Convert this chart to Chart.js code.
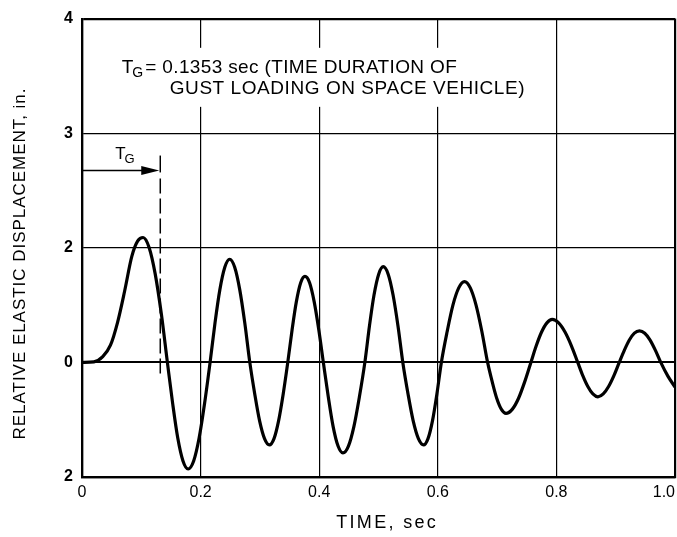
<!DOCTYPE html>
<html>
<head>
<meta charset="utf-8">
<script src="https://cdn.jsdelivr.net/npm/chart.js@4/dist/chart.umd.min.js"></script>
<style>
  html, body { margin: 0; padding: 0; background: #fff; }
  #wrap { width: 677px; height: 537px; }
</style>
</head>
<body>
<div id="wrap"><canvas id="c" width="677" height="537"></canvas></div>
<script>
// ---- data ----
const timeSec = [
  0.000, 0.020, 0.035, 0.048, 0.060, 0.072, 0.084, 0.094, 0.103,
  0.113, 0.1235, 0.134, 0.144,
  0.1528, 0.1615, 0.1703, 0.179,
  0.1883, 0.1975, 0.2068, 0.216,
  0.2243, 0.2325, 0.2408, 0.249,
  0.2575, 0.266, 0.2745, 0.283,
  0.2913, 0.2995, 0.3078, 0.316,
  0.3238, 0.3315, 0.3393, 0.347,
  0.3543, 0.3615, 0.3688, 0.376,
  0.3838, 0.3915, 0.3993, 0.407,
  0.4153, 0.4235, 0.4318, 0.440,
  0.4493, 0.4585, 0.4678, 0.477,
  0.4848, 0.4925, 0.5003, 0.508,
  0.5163, 0.5245, 0.5328, 0.541,
  0.5498, 0.5585, 0.5673, 0.576,
  0.5835, 0.591, 0.5985, 0.606,
  0.6158, 0.6255, 0.6353, 0.645,
  0.6548, 0.6645, 0.6743, 0.684,
  0.6918, 0.6995, 0.7073, 0.715,
  0.7255, 0.736, 0.7465, 0.757,
  0.766, 0.775, 0.784, 0.793,
  0.8038, 0.8145, 0.8253, 0.836,
  0.8445, 0.853, 0.8615, 0.870,
  0.879, 0.888, 0.897, 0.906,
  0.9145, 0.923, 0.9315, 0.940,
  0.949, 0.958, 0.967, 0.976,
  0.988, 1.000
];
const displacement = [
  0.00, 0.01, 0.10, 0.30, 0.70, 1.25, 1.85, 2.12, 2.18,
  2.01, 1.54, 0.83, 0.00,
  -0.71, -1.32, -1.72, -1.86,
  -1.72, -1.32, -0.71, 0.00,
  0.69, 1.27, 1.66, 1.80,
  1.66, 1.27, 0.69, 0.00,
  -0.55, -1.02, -1.33, -1.44,
  -1.33, -1.02, -0.55, 0.00,
  0.57, 1.06, 1.39, 1.50,
  1.39, 1.06, 0.57, 0.00,
  -0.60, -1.12, -1.46, -1.58,
  -1.46, -1.12, -0.60, 0.00,
  0.64, 1.18, 1.54, 1.67,
  1.54, 1.18, 0.64, 0.00,
  -0.55, -1.02, -1.33, -1.44,
  -1.33, -1.02, -0.55, 0.00,
  0.54, 1.00, 1.30, 1.41,
  1.30, 1.00, 0.54, 0.00,
  -0.34, -0.63, -0.82, -0.89,
  -0.82, -0.63, -0.34, 0.00,
  0.29, 0.53, 0.69, 0.75,
  0.69, 0.53, 0.29, 0.00,
  -0.23, -0.42, -0.55, -0.60,
  -0.55, -0.42, -0.23, 0.00,
  0.21, 0.39, 0.51, 0.55,
  0.51, 0.39, 0.21, 0.00,
  -0.24, -0.43
];
const xTickValues = [0, 0.2, 0.4, 0.6, 0.8, 1.0];
const xTickLabels = ['0', '0.2', '0.4', '0.6', '0.8', '1.0'];
const yTickValues = [-2, 0, 2, 4, 6];
const yTickLabels = ['2', '0', '2', '3', '4'];
const xAxisTitle = 'TIME, sec';
const yAxisTitle = 'RELATIVE ELASTIC DISPLACEMENT, in.';
const noteSymbol = 'T';
const noteSubscript = 'G';
const noteLine1 = '= 0.1353 sec (TIME DURATION OF';
const noteLine2 = 'GUST LOADING ON SPACE VEHICLE)';
// gust-duration marker (data coordinates)
const gustTime = 0.132;
const gustArrowLevel = 3.35;
const gustMarkerTop = 3.61;
const gustMarkerBottom = -0.20;

// ---- drawing ----
const FONT = '"Liberation Sans", Arial, sans-serif';

function drawFitted(ctx, text, x, y, targetW, align) {
  ctx.save();
  ctx.letterSpacing = '0px';
  const w0 = ctx.measureText(text).width;
  const n = text.length;
  const sp = n > 1 ? (targetW - w0) / n : 0;
  ctx.letterSpacing = sp.toFixed(2) + 'px';
  const w = ctx.measureText(text).width;
  let sx = x;
  if (align === 'center') sx = x - w / 2 + sp / 2;
  else if (align === 'right') sx = x - w;
  ctx.textAlign = 'left';
  ctx.fillText(text, sx, y);
  ctx.restore();
  return w;
}

const annot = {
  id: 'annot',
  beforeDatasetsDraw(chart) {
    const ctx = chart.ctx, xs = chart.scales.x, ys = chart.scales.y;
    const x0 = xs.getPixelForValue(0.058), x1 = xs.getPixelForValue(0.76);
    const y0 = ys.getPixelForValue(5.49), y1 = ys.getPixelForValue(4.46);
    ctx.save();
    ctx.fillStyle = '#fff';
    ctx.fillRect(x0, y0, x1 - x0, y1 - y0);
    ctx.fillStyle = '#000';
    ctx.textBaseline = 'middle';
    const lx = xs.getPixelForValue(0.067), ly = ys.getPixelForValue(5.15);
    ctx.font = '19px ' + FONT;
    ctx.textAlign = 'left';
    ctx.fillText(noteSymbol, lx, ly);
    const tw = ctx.measureText(noteSymbol).width;
    ctx.font = '14px ' + FONT;
    ctx.fillText(noteSubscript, lx + tw - 1, ly + 6);
    const gw = ctx.measureText(noteSubscript).width;
    ctx.font = '19px ' + FONT;
    const rx = lx + tw - 1 + gw + 2;
    drawFitted(ctx, noteLine1, rx, ly, 457 - rx, 'left');
    const l2x = xs.getPixelForValue(0.148), l2y = ys.getPixelForValue(4.77);
    drawFitted(ctx, noteLine2, l2x, l2y, 525 - l2x, 'left');
    ctx.restore();
  },
  afterDatasetsDraw(chart) {
    const ctx = chart.ctx, xs = chart.scales.x, ys = chart.scales.y;
    const gx = xs.getPixelForValue(gustTime);
    const ay = ys.getPixelForValue(gustArrowLevel);
    const ty = ys.getPixelForValue(gustMarkerTop);
    const by = ys.getPixelForValue(gustMarkerBottom);
    const left = xs.getPixelForValue(0);
    ctx.save();
    ctx.strokeStyle = '#000';
    ctx.fillStyle = '#000';
    ctx.lineWidth = 1.5;
    ctx.beginPath();
    ctx.moveTo(gx, ty); ctx.lineTo(gx, ay + 2);
    ctx.stroke();
    ctx.setLineDash([15, 5]);
    ctx.beginPath();
    ctx.moveTo(gx, ay + 8); ctx.lineTo(gx, by);
    ctx.stroke();
    ctx.setLineDash([]);
    ctx.lineWidth = 1.6;
    ctx.beginPath();
    ctx.moveTo(left, ay); ctx.lineTo(gx - 16, ay);
    ctx.stroke();
    ctx.beginPath();
    ctx.moveTo(gx - 1, ay);
    ctx.lineTo(gx - 19, ay - 4.5);
    ctx.lineTo(gx - 19, ay + 4.5);
    ctx.closePath();
    ctx.fill();
    ctx.textBaseline = 'middle';
    ctx.textAlign = 'left';
    ctx.font = '17px ' + FONT;
    const tx = xs.getPixelForValue(0.056), tyy = ay - 16;
    ctx.fillText(noteSymbol, tx, tyy);
    const tw = ctx.measureText(noteSymbol).width;
    ctx.font = '13px ' + FONT;
    ctx.fillText(noteSubscript, tx + tw - 1, tyy + 5);
    ctx.restore();
  },
  afterDraw(chart) {
    const ctx = chart.ctx, xs = chart.scales.x, ca = chart.chartArea;
    ctx.save();
    ctx.fillStyle = '#000';
    ctx.textBaseline = 'middle';
    ctx.font = '16px ' + FONT;
    ctx.textAlign = 'left';
    xTickValues.forEach((v, i) => {
      const t = xTickLabels[i];
      const w = ctx.measureText(t).width;
      let px = xs.getPixelForValue(v) - w / 2;
      if (px + w > ca.right) px = ca.right - w;
      ctx.fillText(t, px, ca.bottom + 16);
    });
    ctx.font = '18px ' + FONT;
    drawFitted(ctx, xAxisTitle, 386, 523, 102, 'center');
    ctx.translate(20, 264);
    ctx.rotate(-Math.PI / 2);
    ctx.font = '17px ' + FONT;
    drawFitted(ctx, yAxisTitle, 0, 0, 352, 'center');
    ctx.restore();
  }
};

const edgeW = (v, lo, hi) => (v === lo || v === hi) ? 2.2 : (v === 0 ? 2 : 1.2);

new Chart(document.getElementById('c'), {
  type: 'line',
  data: {
    datasets: [{
      data: timeSec.map((t, i) => ({ x: t, y: displacement[i] })),
      borderColor: '#000',
      borderWidth: 3.2,
      pointRadius: 0,
      fill: false,
      cubicInterpolationMode: 'monotone'
    }]
  },
  options: {
    responsive: false,
    animation: false,
    devicePixelRatio: 1,
    layout: { padding: { top: 10, right: 2, left: 0, bottom: 0 } },
    plugins: { legend: { display: false }, tooltip: { enabled: false } },
    scales: {
      x: {
        type: 'linear', min: 0, max: 1,
        afterBuildTicks(s) { s.ticks = xTickValues.map(v => ({ value: v })); },
        afterFit(s) { s.height = 60; },
        ticks: { display: false },
        grid: { color: '#000', drawTicks: false, lineWidth: c => edgeW(c.tick ? c.tick.value : null, 0, 1) },
        border: { display: true, color: '#000', width: 2.2 }
      },
      y: {
        type: 'linear', min: -2, max: 6,
        afterBuildTicks(s) { s.ticks = yTickValues.map(v => ({ value: v })); },
        afterFit(s) { s.width = 82; },
        ticks: {
          color: '#000', padding: 9,
          font: { family: FONT, size: 16, weight: 'bold' },
          callback: (v) => { const i = yTickValues.indexOf(v); return i >= 0 ? yTickLabels[i] : ''; }
        },
        grid: { color: '#000', drawTicks: false, lineWidth: c => edgeW(c.tick ? c.tick.value : null, -2, 6) },
        border: { display: true, color: '#000', width: 2.2 }
      }
    }
  },
  plugins: [annot]
});
</script>
</body>
</html>
